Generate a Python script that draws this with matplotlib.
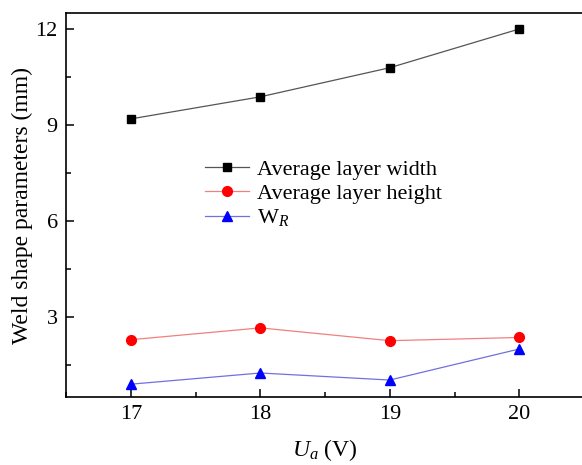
import matplotlib
matplotlib.use("Agg")
import matplotlib.pyplot as plt
from matplotlib.ticker import MultipleLocator

plt.rcParams['font.family'] = ['Liberation Serif', 'DejaVu Serif']
plt.rcParams['mathtext.fontset'] = 'custom'
plt.rcParams['mathtext.rm'] = 'Liberation Serif'
plt.rcParams['mathtext.it'] = 'Liberation Serif:italic'

voltage = [17, 18, 19, 20]
avg_width = [9.19, 9.88, 10.79, 12.0]
avg_height = [2.29, 2.66, 2.26, 2.36]
w_r = [0.90, 1.25, 1.03, 2.0]

fig = plt.figure(figsize=(5.82, 4.65), dpi=100)
ax = fig.add_axes([66/582, 68/465, 518/582, 384/465])

ax.plot(voltage, avg_width, color='#555555', lw=0.9, marker='s', ms=6.3,
        mfc='black', mec='black', label='Average layer width')
ax.plot(voltage, avg_height, color='#f08080', lw=0.9, marker='o', ms=7,
        mfc='red', mec='red', label='Average layer height')
ax.plot(voltage, w_r, color='#7070e0', lw=0.9, marker='^', ms=7.5,
        mfc='blue', mec='blue', label=r'W$_{\mathit{R}}$')

ax.set_xlim(16.5, 20.5)
ax.set_ylim(0.5, 12.5)
ax.set_xticks(voltage)
ax.xaxis.set_minor_locator(MultipleLocator(0.5))
ax.set_yticks([3, 6, 9, 12])
ax.yaxis.set_minor_locator(MultipleLocator(1.5))
ax.tick_params(which='both', direction='in', labelsize=16, width=1.1)
ax.tick_params(which='major', length=6, pad=6)
ax.tick_params(which='minor', length=3.5)
for s in ax.spines.values():
    s.set_linewidth(1.2)

ax.set_xlabel(r'$U_a$ (V)', fontsize=17, labelpad=9)
ax.set_ylabel('Weld shape parameters (mm)', fontsize=17, labelpad=2)

ax.legend(loc='upper left', bbox_to_anchor=(0.268, 0.618), frameon=False,
          fontsize=16, handlelength=2.0, handletextpad=0.35, labelspacing=0.15,
          borderaxespad=0, borderpad=0)

fig.savefig('out.png', dpi=100)
